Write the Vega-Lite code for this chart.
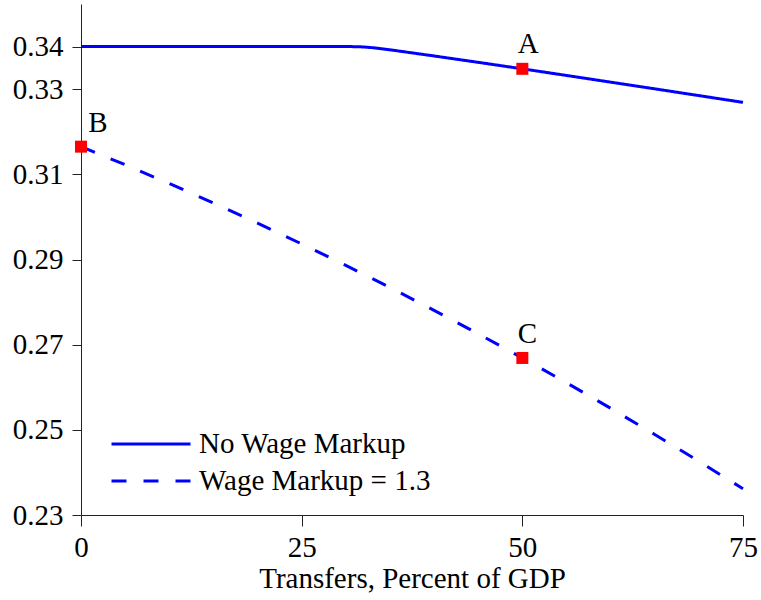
{
  "$schema": "https://vega.github.io/schema/vega-lite/v6.json",
  "width": 662,
  "height": 511,
  "autosize": {"type": "none"},
  "padding": {"left": 81, "top": 4, "right": 18, "bottom": 85},
  "background": "white",
  "config": {
    "view": {"stroke": null},
    "font": "Liberation Serif",
    "axis": {
      "grid": false,
      "labelFlush": false,
      "domainColor": "#222222",
      "tickColor": "#222222",
      "labelColor": "black",
      "titleColor": "black",
      "labelFont": "Liberation Serif",
      "titleFont": "Liberation Serif",
      "labelFontSize": 29,
      "titleFontSize": 29,
      "titleFontWeight": "normal"
    }
  },
  "datasets": {
    "lines": [
      {"x": 0, "y": 0.34, "series": "No Wage Markup"},
      {"x": 10, "y": 0.34, "series": "No Wage Markup"},
      {"x": 20, "y": 0.34, "series": "No Wage Markup"},
      {"x": 30, "y": 0.34, "series": "No Wage Markup"},
      {"x": 31.5, "y": 0.33998, "series": "No Wage Markup"},
      {"x": 33, "y": 0.33975, "series": "No Wage Markup"},
      {"x": 35, "y": 0.33925, "series": "No Wage Markup"},
      {"x": 40, "y": 0.3378, "series": "No Wage Markup"},
      {"x": 45, "y": 0.3363, "series": "No Wage Markup"},
      {"x": 50, "y": 0.33478, "series": "No Wage Markup"},
      {"x": 55, "y": 0.33322, "series": "No Wage Markup"},
      {"x": 60, "y": 0.33165, "series": "No Wage Markup"},
      {"x": 65, "y": 0.33008, "series": "No Wage Markup"},
      {"x": 70, "y": 0.32849, "series": "No Wage Markup"},
      {"x": 75, "y": 0.3269, "series": "No Wage Markup"},
      {"x": 0, "y": 0.3165, "series": "Wage Markup = 1.3"},
      {"x": 5, "y": 0.31225, "series": "Wage Markup = 1.3"},
      {"x": 10, "y": 0.30784, "series": "Wage Markup = 1.3"},
      {"x": 15, "y": 0.30327, "series": "Wage Markup = 1.3"},
      {"x": 20, "y": 0.29854, "series": "Wage Markup = 1.3"},
      {"x": 25, "y": 0.29366, "series": "Wage Markup = 1.3"},
      {"x": 30, "y": 0.28862, "series": "Wage Markup = 1.3"},
      {"x": 35, "y": 0.28342, "series": "Wage Markup = 1.3"},
      {"x": 40, "y": 0.27806, "series": "Wage Markup = 1.3"},
      {"x": 45, "y": 0.27255, "series": "Wage Markup = 1.3"},
      {"x": 50, "y": 0.26688, "series": "Wage Markup = 1.3"},
      {"x": 55, "y": 0.26105, "series": "Wage Markup = 1.3"},
      {"x": 60, "y": 0.25506, "series": "Wage Markup = 1.3"},
      {"x": 65, "y": 0.24892, "series": "Wage Markup = 1.3"},
      {"x": 70, "y": 0.24261, "series": "Wage Markup = 1.3"},
      {"x": 75, "y": 0.23616, "series": "Wage Markup = 1.3"}
    ],
    "points": [
      {"x": 50, "y": 0.33478, "label": "A"},
      {"x": 0, "y": 0.3165, "label": "B"},
      {"x": 50, "y": 0.26688, "label": "C"}
    ]
  },
  "layer": [
    {
      "data": {"name": "lines"},
      "mark": {"type": "line", "strokeWidth": 3, "color": "#0000ff", "clip": false},
      "encoding": {
        "x": {
          "field": "x", "type": "quantitative",
          "scale": {"domain": [0, 75], "nice": false, "zero": false},
          "axis": {
            "values": [0, 25, 50, 75],
            "title": "Transfers, Percent of GDP",
            "tickSize": 11,
            "labelPadding": 7,
            "titlePadding": 2
          }
        },
        "y": {
          "field": "y", "type": "quantitative",
          "scale": {"domain": [0.23, 0.35], "nice": false, "zero": false},
          "axis": {
            "values": [0.23, 0.25, 0.27, 0.29, 0.31, 0.33, 0.34],
            "format": ".2f",
            "title": null,
            "tickSize": 9,
            "labelPadding": 9
          }
        },
        "strokeDash": {
          "field": "series", "type": "nominal",
          "scale": {
            "domain": ["No Wage Markup", "Wage Markup = 1.3"],
            "range": [[1, 0], [15, 17]]
          },
          "legend": {
            "title": null,
            "orient": "none",
            "legendX": 29,
            "legendY": 426,
            "symbolType": "stroke",
            "symbolSize": 6241,
            "symbolStrokeWidth": 3,
            "symbolStrokeColor": "#0000ff",
            "labelFont": "Liberation Serif",
            "labelFontSize": 29,
            "labelColor": "black",
            "labelOffset": 7,
            "clipHeight": 28,
            "rowPadding": 8,
            "labelLimit": 400
          }
        }
      }
    },
    {
      "data": {"name": "points"},
      "mark": {"type": "point", "shape": "square", "filled": true, "color": "#ff0000", "opacity": 1, "size": 144, "clip": false},
      "encoding": {
        "x": {"field": "x", "type": "quantitative"},
        "y": {"field": "y", "type": "quantitative"}
      }
    },
    {
      "data": {"name": "points"},
      "transform": [{"filter": "datum.label === 'A'"}],
      "mark": {"type": "text", "fontSize": 29, "font": "Liberation Serif", "color": "black", "align": "center", "baseline": "middle", "dx": 6, "dy": -25},
      "encoding": {
        "x": {"field": "x", "type": "quantitative"},
        "y": {"field": "y", "type": "quantitative"},
        "text": {"field": "label"}
      }
    },
    {
      "data": {"name": "points"},
      "transform": [{"filter": "datum.label === 'B'"}],
      "mark": {"type": "text", "fontSize": 29, "font": "Liberation Serif", "color": "black", "align": "center", "baseline": "middle", "dx": 17, "dy": -24},
      "encoding": {
        "x": {"field": "x", "type": "quantitative"},
        "y": {"field": "y", "type": "quantitative"},
        "text": {"field": "label"}
      }
    },
    {
      "data": {"name": "points"},
      "transform": [{"filter": "datum.label === 'C'"}],
      "mark": {"type": "text", "fontSize": 29, "font": "Liberation Serif", "color": "black", "align": "center", "baseline": "middle", "dx": 5, "dy": -24},
      "encoding": {
        "x": {"field": "x", "type": "quantitative"},
        "y": {"field": "y", "type": "quantitative"},
        "text": {"field": "label"}
      }
    }
  ]
}
